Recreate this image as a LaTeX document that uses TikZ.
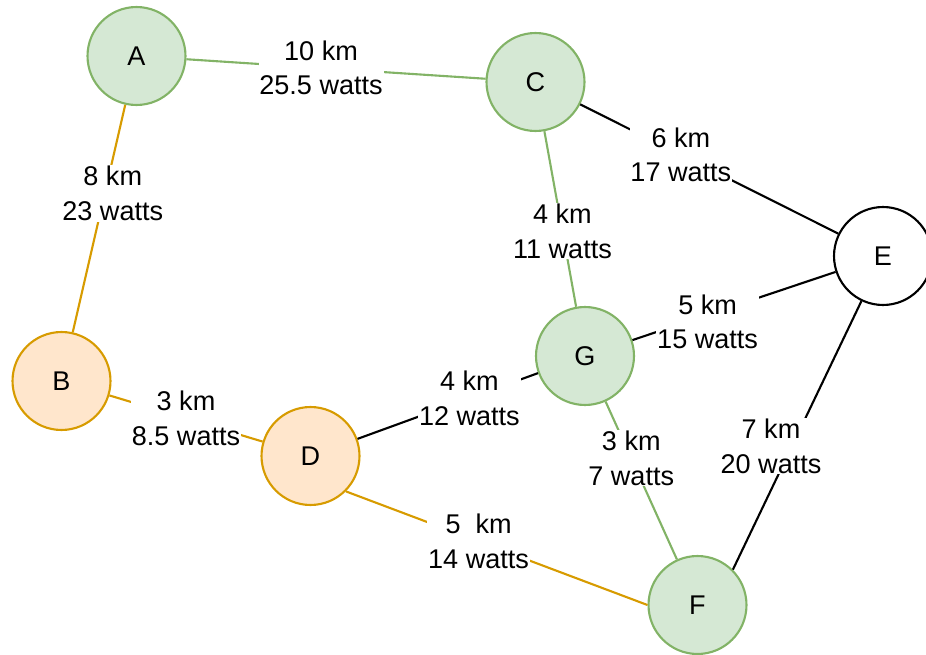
\documentclass[tikz,border=0pt]{standalone}
\usepackage{fontspec}
\setmainfont{Liberation Sans}
\usepackage{xcolor}
\definecolor{SiteGreen}{HTML}{D5E8D4}
\definecolor{LineGreen}{HTML}{82B366}
\definecolor{SiteOrange}{HTML}{FFE6CC}
\definecolor{LineOrange}{HTML}{D79B00}

\begin{document}
\begin{tikzpicture}[
    x=0.02cm,
    y=-0.02cm,
    font=\fontsize{15.4pt}{19.6pt}\selectfont,
    site/.style={circle,draw,line width=1.2pt,minimum size=1.96cm,inner sep=0pt,fill=white},
    green site/.style={site,fill=SiteGreen,draw=LineGreen},
    orange site/.style={site,fill=SiteOrange,draw=LineOrange},
    link/.style={line width=1.2pt},
    lbl/.style={fill=white,text=black,inner sep=0.5pt,align=center}
  ]
  \useasboundingbox (0,0) rectangle (926,655);
  \node[green site] (A) at (136.5,56) {A};
  \node[green site] (C) at (535.5,82) {C};
  \node[site] (E) at (883,256) {E};
  \node[orange site] (B) at (61.5,381) {B};
  \node[orange site] (D) at (310.5,456) {D};
  \node[green site] (G) at (585,356) {G};
  \node[green site] (F) at (697.5,605) {F};

  \draw[link,draw=LineGreen] (A) -- node[lbl,pos=0.45] {10 km\\25.5 watts} (C);
  \draw[link,draw=LineOrange] (A) -- node[lbl,pos=0.39,xshift=0.16cm] {8 km\\23 watts} (B);
  \draw[link,draw=LineOrange] (B) -- node[lbl,pos=0.5] {3 km\\8.5 watts} (D);
  \draw[link,draw=LineOrange] (D.south east) -- node[lbl,pos=0.44] {5\ \ km\\14 watts} (F.west);
  \draw[link,draw=LineGreen] (C) -- node[lbl,pos=0.57] {4 km\\11 watts} (G);
  \draw[link,draw=LineGreen] (G) -- node[lbl,pos=0.36] {3 km\\7 watts} (F);
  \draw[link] (C) -- node[lbl,pos=0.39] {6 km\\17 watts} (E);
  \draw[link] (G) -- node[lbl,pos=0.37,yshift=-0.14cm] {5 km\\15 watts} (E);
  \draw[link] (D) -- node[lbl,pos=0.62] {4 km\\12 watts} (G);
  \draw[link] (E) -- node[lbl,pos=0.54,xshift=-0.42cm] {7 km\\20 watts} (F.45);
\end{tikzpicture}
\end{document}
